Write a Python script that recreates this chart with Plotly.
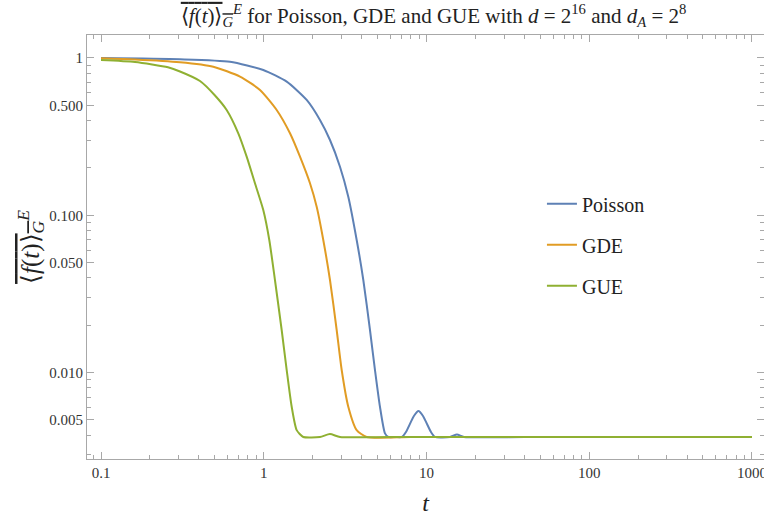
import plotly.graph_objects as go

# ---- data ----
t_poisson = [0.1, 0.3057, 0.6202, 0.9936, 1.384, 1.836, 2.216, 2.553, 2.941, 3.308, 3.725, 4.091,
             4.496, 4.826, 5.179, 5.559, 5.825, 6.4, 7.07, 7.48, 8.37, 8.93, 9.52, 10.66, 11.28,
             13.95, 15.4, 17.0, 40, 100, 1000]
y_poisson = [0.998, 0.981, 0.947, 0.839, 0.707, 0.541, 0.4036, 0.301, 0.2037, 0.1313, 0.0697, 0.03879,
             0.01866, 0.01039, 0.00607, 0.00411, 0.0039, 0.0039, 0.0039, 0.00419, 0.0053, 0.0057,
             0.0053, 0.00419, 0.0039, 0.0039, 0.00404, 0.0039, 0.0039, 0.0039, 0.0039]

t_gde = [0.1, 0.1618, 0.3057, 0.4898, 0.7146, 0.9484, 1.201, 1.45, 1.67, 1.924, 2.115, 2.322, 2.553,
         2.807, 3.013, 3.308, 3.725, 4.292, 8, 30, 100, 1000]
y_gde = [0.995, 0.978, 0.939, 0.880, 0.7606, 0.626, 0.467, 0.332, 0.2358, 0.1597, 0.1134, 0.0697,
         0.03879, 0.01866, 0.01039, 0.00607, 0.00431, 0.0039, 0.0039, 0.0039, 0.0039, 0.0039]

t_gue = [0.1, 0.1618, 0.258, 0.3057, 0.4057, 0.5017, 0.5919, 0.6977, 0.7855, 0.8835, 0.9936, 1.0817,
         1.172, 1.289, 1.384, 1.485, 1.594, 1.75, 2.216, 2.553, 2.941, 6, 30, 100, 1000]
y_gue = [0.971, 0.943, 0.872, 0.821, 0.714, 0.5776, 0.467, 0.332, 0.2358, 0.1597, 0.108, 0.0697,
         0.03879, 0.01866, 0.01039, 0.00607, 0.00431, 0.0039, 0.0039, 0.00407, 0.0039, 0.0039, 0.0039,
         0.0039, 0.0039]

series_names = ["Poisson", "GDE", "GUE"]
series_colors = ["#5E81B5", "#E19C24", "#8FB032"]

x_tickvals = [0.1, 1, 10, 100, 1000]
x_ticktext = ["0.1", "1", "10", "100", "1000"]
y_tickvals = [0.005, 0.01, 0.05, 0.1, 0.5, 1]
y_ticktext = ["0.005", "0.010", "0.050", "0.100", "0.500", "1"]

FONT = "Liberation Serif"
FRAME = "#a8a8a8"

fig = go.Figure()
for name, tx, ty, col in zip(series_names, [t_poisson, t_gde, t_gue], [y_poisson, y_gde, y_gue], series_colors):
    fig.add_trace(go.Scatter(x=tx, y=ty, mode="lines", name=name, legendgroup=name,
                             line=dict(color=col, width=2, shape="spline", smoothing=0.6)))

sym = "<span style='text-decoration:overline'>⟨<i>f</i>(<i>t</i>)⟩<sub><i>G</i></sub></span><sup><i>E</i></sup>"

fig.update_layout(
    width=764, height=516,
    margin=dict(l=87, r=0, t=35, b=57),
    paper_bgcolor="white", plot_bgcolor="white",
    font=dict(family=FONT, size=15, color="#333333"),
    title=dict(text=sym + " for Poisson, GDE and GUE with <i>d</i> = 2<sup>16</sup> and <i>d<sub>A</sub></i> = 2<sup>8</sup>",
               x=0.512, xref="paper", xanchor="center", y=0.97, yanchor="middle",
               font=dict(family=FONT, size=21, color="#222222")),
    showlegend=True,
    legend=dict(x=0.672, y=0.648, xanchor="left", yanchor="top", tracegroupgap=12,
                font=dict(family=FONT, size=20, color="#222222"), bgcolor="rgba(0,0,0,0)"),
)

common = dict(showgrid=False, zeroline=False, showline=True, linecolor=FRAME, linewidth=1,
              mirror="ticks", ticks="inside", ticklen=7, tickcolor=FRAME, tickwidth=1,
              automargin=False, ticklabeloverflow="allow",
              tickfont=dict(family=FONT, size=15, color="#333333"))

fig.update_xaxes(type="log", range=[-1.086, 3.074], tickvals=x_tickvals, ticktext=x_ticktext,
                 minor=dict(ticks="inside", ticklen=4, tickcolor=FRAME, dtick="D1"),
                 title=dict(text="<i>t</i>", font=dict(family=FONT, size=24, color="#222222")),
                 **common)
fig.update_yaxes(type="log", range=[-2.549, 0.146], tickvals=y_tickvals, ticktext=y_ticktext,
                 minor=dict(ticks="inside", ticklen=4, tickcolor=FRAME, dtick="D1"),
                 title=dict(text=sym, font=dict(family=FONT, size=25, color="#222222"), standoff=2),
                 **common)

fig.write_html("out.html", config={"displayModeBar": False},
               post_script="document.body.style.margin='0';")
